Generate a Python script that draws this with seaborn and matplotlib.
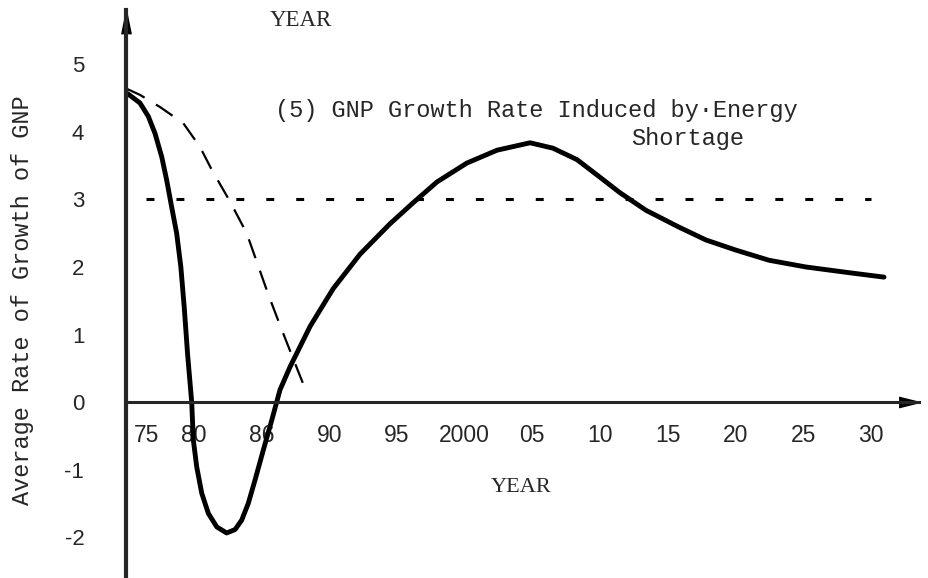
import numpy as np
import pandas as pd
import matplotlib
matplotlib.use("Agg")
import matplotlib.pyplot as plt
import matplotlib.transforms as mtransforms
import seaborn as sns

# values
years_solid = [1975.0, 1975.17, 1976.03, 1976.65, 1977.14, 1977.64, 1978.0, 1978.37,
               1978.74, 1979.05, 1979.3, 1979.55, 1979.85, 1979.97, 1980.22, 1980.59,
               1981.08, 1981.7, 1982.43, 1983.05, 1983.54, 1984.03, 1984.52, 1985.14,
               1985.76, 1986.37, 1987.11, 1987.85, 1988.59, 1989.32, 1990.3, 1992.28,
               1994.49, 1996.19, 1997.96, 2000.17, 2002.39, 2004.83, 2006.52, 2008.3,
               2009.99, 2011.47, 2013.39, 2015.83, 2017.82, 2020.03, 2022.47, 2025.2,
               2028.6, 2030.96]
growth_solid = [4.58, 4.56, 4.43, 4.23, 3.98, 3.63, 3.29, 2.89,
                2.50, 2.0, 1.4, 0.7, 0.0, -0.56, -0.96, -1.35,
                -1.65, -1.85, -1.94, -1.89, -1.75, -1.50, -1.16, -0.71,
                -0.27, 0.18, 0.52, 0.82, 1.12, 1.36, 1.68, 2.19,
                2.64, 2.95, 3.26, 3.54, 3.73, 3.84, 3.76, 3.59,
                3.33, 3.10, 2.84, 2.59, 2.40, 2.25, 2.10, 2.00,
                1.91, 1.85]

years_dashed = [1975.05, 1976.03, 1977.51, 1979.23, 1980.46, 1981.33, 1982.68,
                1983.91, 1984.65, 1985.51, 1986.5, 1987.72, 1988.22]
growth_dashed = [4.64, 4.55, 4.37, 4.13, 3.78, 3.44, 2.97,
                 2.50, 2.08, 1.59, 1.07, 0.45, 0.20]

years_ref = [1976.5, 2030.0]
growth_ref = [3.0, 3.0]

x_ticks = [1975, 1980, 1985, 1990, 1995, 2000, 2005, 2010, 2015, 2020, 2025, 2030]
x_labels = ['75', '80', '86', '90', '95', '2000', '05', '10', '15', '20', '25', '30']
y_ticks = [-2, -1, 0, 1, 2, 3, 4, 5]
y_labels = ['-2', '-1', '0', '1', '2', '3', '4', '5']

solid = pd.DataFrame({'year': years_solid, 'rate': growth_solid})
dashed = pd.DataFrame({'year': years_dashed, 'rate': growth_dashed})
ref = pd.DataFrame({'year': years_ref, 'rate': growth_ref})

sns.set_style("white")
plt.rcParams['font.family'] = ['Liberation Mono', 'DejaVu Sans']

fig = plt.figure(figsize=(9.29, 5.78), dpi=100)
ax = fig.add_axes([126 / 929, 0, 793 / 929, 568 / 578])

sns.lineplot(data=solid, x='year', y='rate', color='black', linewidth=3.5,
             sort=False, ax=ax, solid_capstyle='round', solid_joinstyle='round')
sns.lineplot(data=dashed, x='year', y='rate', color='black', linewidth=1.6,
             sort=False, ax=ax, linestyle=(0, (9, 6)))
sns.lineplot(data=ref, x='year', y='rate', color='black', linewidth=2.2,
             sort=False, ax=ax, linestyle=(0, (2.6, 7.2)))

ax.set_xlim(1975, 1975 + 793 / 13.545)
ax.set_ylim(-2.607, 5.807)

# axes drawn like the hand-made ones: y axis on the left, x axis through zero
ax.spines['top'].set_visible(False)
ax.spines['right'].set_visible(False)
ax.spines['bottom'].set_position(('data', 0))
ax.spines['left'].set_linewidth(3.0)
ax.spines['bottom'].set_linewidth(2.2)
ax.plot(0, 0.979, marker=[(-0.4, -1), (0, 1), (0.4, -1)], color='black',
        markersize=17, transform=ax.transAxes, clip_on=False)
ax.plot(0.987, 0, marker=[(-1, -0.5), (1, 0), (-1, 0.5)], color='black',
        markersize=15, transform=ax.get_yaxis_transform(), clip_on=False)

ax.set_xticks(x_ticks)
ax.set_xticklabels(x_labels, family='Liberation Sans', fontsize=16.5)
ax.set_yticks(y_ticks)
ax.set_yticklabels(y_labels, family='Liberation Sans', fontsize=16)
ax.tick_params(axis='x', direction='inout', length=8, width=2, pad=12)
ax.tick_params(axis='y', direction='inout', length=10, width=2.5, pad=25)

# "75" sits to the right of the vertical axis
shift = mtransforms.ScaledTranslation(21 / 100, 0, fig.dpi_scale_trans)
first = ax.get_xticklabels()[0]
first.set_transform(first.get_transform() + shift)

ax.set_xlabel('YEAR', family='Liberation Serif', fontsize=16)
ax.xaxis.set_label_coords(0.498, 0.160)
ax.xaxis.label.set_va('center')
ax.set_ylabel('Average Rate of Growth of GNP', fontsize=17)
ax.yaxis.set_label_coords(-0.131, 0.489)
ax.yaxis.label.set_va('center')

fig.text(301 / 929, 1 - 20 / 578, 'YEAR', family='Liberation Serif',
         fontsize=16.5, ha='center', va='center')
fig.text(275 / 929, 1 - 110 / 578, '(5) GNP Growth Rate Induced by\u00b7Energy',
         fontsize=17, ha='left', va='center')
fig.text(631 / 929, 1 - 138 / 578, 'Shortage',
         fontsize=17, ha='left', va='center')

fig.savefig('out.png', dpi=100)
